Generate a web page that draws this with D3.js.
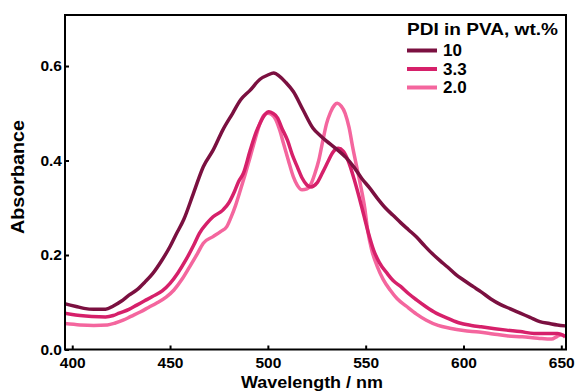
<!DOCTYPE html>
<html>
<head>
<meta charset="utf-8">
<script src="https://cdn.jsdelivr.net/npm/d3@7"></script>
<style>
  body { margin: 0; background: #fff; }
  text { font-family: "Liberation Sans", Arial, sans-serif; font-weight: bold; }
</style>
</head>
<body>
<div id="chart"></div>
<script>
// absorbance spectra, [wavelength nm, absorbance]
const pdi10 = [
  [396,0.097],[402,0.091],[406,0.087],[411,0.085],[417,0.085],[421,0.092],[425,0.102],[429,0.115],
  [433,0.126],[437,0.142],[441,0.160],[446,0.190],[450,0.218],[453,0.243],[457,0.275],[462,0.331],
  [467,0.387],[472,0.422],[477,0.465],[482,0.500],[486,0.528],[491,0.549],[496,0.572],[500,0.581],
  [503,0.585],[506,0.578],[509,0.566],[513,0.546],[518,0.507],[523,0.469],[527,0.452],[530,0.441],
  [534,0.428],[540,0.406],[544,0.386],[548,0.362],[552,0.342],[556,0.320],[560,0.300],[564,0.284],
  [568,0.268],[572,0.253],[576,0.238],[580,0.220],[584,0.203],[588,0.188],[592,0.174],[596,0.159],
  [600,0.147],[605,0.133],[609,0.122],[614,0.107],[619,0.095],[624,0.086],[629,0.077],[634,0.068],
  [639,0.059],[644,0.055],[648,0.052],[652,0.050]
];
const pdi33 = [
  [396,0.077],[400,0.074],[404,0.072],[410,0.070],[417,0.069],[421,0.072],[424,0.077],[429,0.085],
  [433,0.094],[437,0.103],[441,0.112],[446,0.124],[450,0.140],[454,0.162],[458,0.189],[462,0.220],
  [465,0.246],[469,0.268],[472,0.281],[477,0.295],[480,0.310],[483,0.335],[485,0.355],[487.5,0.373],
  [491,0.422],[494,0.460],[496,0.479],[498.5,0.497],[500.5,0.503],[502.5,0.500],[505,0.490],[507,0.470],
  [510,0.443],[512.5,0.412],[515,0.387],[517.5,0.363],[520,0.348],[522,0.344],[525,0.352],[528,0.375],
  [531,0.400],[533,0.416],[536,0.426],[538.5,0.420],[541,0.400],[544,0.362],[546.5,0.325],[549,0.285],
  [551.5,0.245],[554,0.211],[557,0.184],[561,0.161],[564,0.146],[568,0.133],[572,0.118],[576,0.105],
  [581,0.090],[586,0.077],[592,0.066],[598,0.056],[604,0.051],[609,0.048],[616,0.044],[622,0.041],
  [629,0.038],[636,0.034],[642,0.034],[648,0.034],[652,0.028]
];
const pdi20 = [
  [396,0.055],[404,0.052],[411,0.051],[418,0.052],[422,0.056],[426,0.062],[430,0.070],[435,0.080],
  [439,0.089],[443,0.098],[448,0.111],[452,0.126],[456,0.148],[460,0.175],[464,0.203],[467,0.225],
  [472,0.239],[476,0.250],[479,0.260],[481,0.278],[483.5,0.305],[486,0.338],[488.5,0.372],[491,0.408],
  [493.5,0.445],[496,0.479],[498,0.496],[500,0.500],[502,0.497],[504,0.487],[506,0.465],[508,0.436],
  [510.5,0.400],[513,0.366],[515,0.348],[517.5,0.338],[520,0.340],[522,0.350],[524,0.372],[526,0.400],
  [528,0.440],[530,0.478],[532,0.502],[534,0.517],[535.5,0.521],[537.5,0.515],[539.5,0.500],[541.5,0.470],
  [543.5,0.425],[545.5,0.385],[547.5,0.345],[549.5,0.300],[551,0.253],[553,0.212],[556,0.175],[559,0.148],
  [562.5,0.126],[566,0.108],[571,0.091],[576,0.075],[581,0.062],[587,0.051],[593,0.045],[600,0.040],
  [608,0.037],[615,0.033],[622,0.029],[630,0.027],[638,0.024],[645,0.022],[648,0.028],[650,0.031],
  [652,0.026]
];

const seriesNames = ["10", "3.3", "2.0"];
const seriesData = [pdi10, pdi33, pdi20];
const xTicks = [400, 450, 500, 550, 600, 650];
const yTicks = [0, 0.2, 0.4, 0.6];

const width = 577;
const height = 392;
const margin = { top: 15, right: 11, bottom: 42.5, left: 65 };
const colors = ["#7b1040", "#d6206a", "#f4669e"];

const svg = d3.select("#chart")
  .append("svg")
  .attr("width", width)
  .attr("height", height);

const x = d3.scaleLinear()
  .domain([396.3, 652.4])
  .range([margin.left, width - margin.right]);

const y = d3.scaleLinear()
  .domain([0, 0.708])
  .range([height - margin.bottom, margin.top]);

// spectra
const line = d3.line()
  .x(d => x(d[0]))
  .y(d => y(d[1]))
  .curve(d3.curveMonotoneX);

const plot = svg.append("g");
plot.append("defs").append("clipPath").attr("id", "clip")
  .append("rect")
  .attr("x", margin.left).attr("y", margin.top)
  .attr("width", width - margin.left - margin.right)
  .attr("height", height - margin.top - margin.bottom);

// draw the thin films first so the 10 % curve is not on top
[2, 1, 0].forEach(i => {
  plot.append("path")
    .datum(seriesData[i])
    .attr("clip-path", "url(#clip)")
    .attr("fill", "none")
    .attr("stroke", colors[i])
    .attr("stroke-width", 3.5)
    .attr("stroke-linejoin", "round")
    .attr("d", line);
});

// axes with inward ticks
const xAxis = svg.append("g")
  .attr("transform", `translate(0,${height - margin.bottom})`)
  .call(d3.axisBottom(x).tickValues(xTicks).tickSizeInner(-4).tickSizeOuter(0).tickPadding(7));

const yAxis = svg.append("g")
  .attr("transform", `translate(${margin.left},0)`)
  .call(d3.axisLeft(y).tickValues(yTicks).tickFormat(d3.format(".1f")).tickSizeInner(-4).tickSizeOuter(0).tickPadding(3));

[xAxis, yAxis].forEach(a => {
  a.select(".domain").remove();
  a.selectAll(".tick line").attr("stroke", "#000").attr("stroke-width", 2);
  a.selectAll(".tick text").attr("font-size", 15.5).attr("fill", "#000")
    .style("font-family", "'Liberation Sans', Arial, sans-serif").style("font-weight", "bold");
});

// frame
svg.append("rect")
  .attr("x", margin.left)
  .attr("y", margin.top)
  .attr("width", width - margin.left - margin.right)
  .attr("height", height - margin.top - margin.bottom)
  .attr("fill", "none")
  .attr("stroke", "#000")
  .attr("stroke-width", 2);

// axis titles
svg.append("text")
  .attr("x", 312)
  .attr("y", 387.5)
  .attr("text-anchor", "middle")
  .attr("font-size", 16.5)
  .attr("textLength", 142)
  .attr("lengthAdjust", "spacingAndGlyphs")
  .text("Wavelength / nm");

svg.append("text")
  .attr("transform", "translate(24,177) rotate(-90)")
  .attr("text-anchor", "middle")
  .attr("font-size", 17.5)
  .attr("textLength", 114)
  .attr("lengthAdjust", "spacingAndGlyphs")
  .text("Absorbance");

// legend
const legend = svg.append("g");
legend.append("text")
  .attr("x", 407)
  .attr("y", 35)
  .attr("font-size", 17)
  .attr("textLength", 151)
  .attr("lengthAdjust", "spacingAndGlyphs")
  .text("PDI in PVA, wt.%");

seriesNames.forEach((name, i) => {
  const ly = 50.5 + i * 18.5;
  legend.append("line")
    .attr("x1", 407).attr("x2", 437)
    .attr("y1", ly).attr("y2", ly)
    .attr("stroke", colors[i])
    .attr("stroke-width", 4);
  legend.append("text")
    .attr("x", 443)
    .attr("y", ly + 5.5)
    .attr("font-size", 17)
    .text(name);
});
</script>
</body>
</html>
